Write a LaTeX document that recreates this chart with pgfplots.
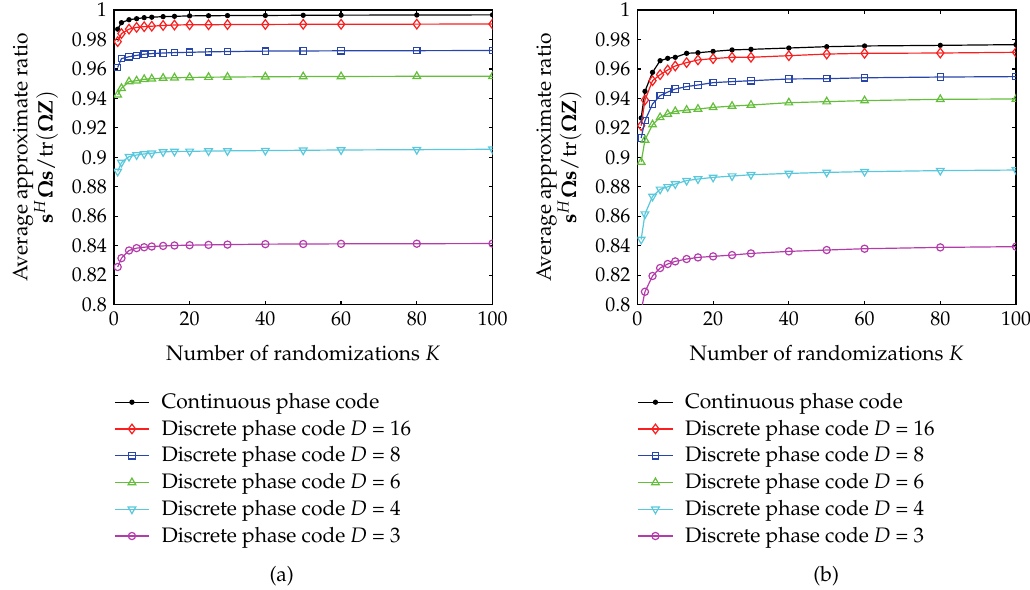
\documentclass[border=0pt]{standalone}
\usepackage[T1]{fontenc}
\usepackage{mathpazo}
\usepackage{pgfplots}
\usepackage{pgfplotstable}
\pgfplotsset{compat=1.18}
\definecolor{cblack}{RGB}{0,0,0}
\definecolor{cred}{RGB}{250,30,30}
\definecolor{cblue}{RGB}{40,70,170}
\definecolor{cgreen}{RGB}{100,190,60}
\definecolor{ccyan}{RGB}{90,200,220}
\definecolor{cmag}{RGB}{180,60,170}

\pgfplotstableread{
x   c       d16     d8      d6      d4      d3
1   0.9870  0.9785  0.9610  0.9424  0.8904  0.8256
2   0.9914  0.9840  0.9670  0.9469  0.8965  0.8316
4   0.9934  0.9870  0.9683  0.9514  0.9005  0.8368
6   0.9941  0.9882  0.9692  0.9520  0.9016  0.8384
8   0.9948  0.9887  0.9700  0.9530  0.9023  0.8390
10  0.9951  0.9890  0.9704  0.9533  0.9028  0.8395
13  0.9955  0.9895  0.9708  0.9538  0.9037  0.8399
16  0.9957  0.9898  0.9711  0.9540  0.9040  0.8402
20  0.9960  0.9900  0.9713  0.9542  0.9041  0.8404
25  0.9961  0.9900  0.9716  0.9544  0.9043  0.8406
30  0.9962  0.9901  0.9718  0.9545  0.9044  0.8408
40  0.9963  0.9902  0.9721  0.9547  0.9046  0.8411
50  0.9964  0.9903  0.9722  0.9548  0.9048  0.8412
60  0.9965  0.9903  0.9723  0.9549  0.9050  0.8413
80  0.9966  0.9904  0.9724  0.9550  0.9052  0.8414
100 0.9967  0.9905  0.9725  0.9550  0.9055  0.8415
}\dataA

\pgfplotstableread{
x   c       d16     d8      d6      d4      d3
1   0.9267  0.9215  0.9131  0.8968  0.8443  0.7960
2   0.9448  0.9389  0.9249  0.9118  0.8615  0.8088
4   0.9577  0.9520  0.9362  0.9222  0.8735  0.8195
6   0.9656  0.9561  0.9419  0.9271  0.8783  0.8249
8   0.9672  0.9593  0.9443  0.9294  0.8800  0.8276
10  0.9679  0.9620  0.9464  0.9312  0.8819  0.8294
13  0.9706  0.9643  0.9480  0.9321  0.8842  0.8310
16  0.9710  0.9661  0.9491  0.9328  0.8853  0.8321
20  0.9719  0.9670  0.9507  0.9339  0.8864  0.8328
25  0.9729  0.9679  0.9514  0.9348  0.8873  0.8337
30  0.9733  0.9679  0.9520  0.9355  0.8882  0.8348
40  0.9742  0.9690  0.9532  0.9371  0.8891  0.8362
50  0.9751  0.9701  0.9534  0.9378  0.8898  0.8371
60  0.9756  0.9706  0.9540  0.9385  0.8903  0.8380
80  0.9760  0.9708  0.9545  0.9394  0.8910  0.8389
100 0.9765  0.9713  0.9548  0.9396  0.8914  0.8394
}\dataB

\newcommand{\fs}{\fontsize{10.5pt}{12.6pt}\selectfont}
\newcommand{\ft}{\fontsize{10pt}{12pt}\selectfont}

\pgfplotsset{
  myaxis/.style={
    scale only axis,
    width=189.5pt, height=147.5pt,
    xmin=0, xmax=100, ymin=0.8, ymax=1,
    xtick={0,20,40,60,80,100},
    ytick={0.8,0.82,0.84,0.86,0.88,0.9,0.92,0.94,0.96,0.98,1},
    tick align=inside,
    major tick length=2pt,
    font=\fs,
    tick label style={font=\ft},
    label style={font=\fs},
    axis line style={line width=0.7pt},
    every tick/.style={line width=0.6pt, black},
    clip marker paths=true,
    xlabel={Number of randomizations $K$},
    ylabel={Average approximate ratio\\ $\mathbf{s}^H\mathbf{\Omega}\mathbf{s}/\mathrm{tr}(\mathbf{\Omega}\mathbf{Z})$},
    ylabel style={align=center},
    xlabel style={yshift=-3pt},
    legend cell align=left,
    legend style={draw=none, fill=none, at={(0,-0.285)}, anchor=north west,
      inner sep=0pt, row sep=0.3pt, column sep=4pt, font=\fs},
    every axis plot/.append style={line width=0.6pt},
  },
  sc/.style={cblack, mark=*, mark size=1pt},
  s16/.style={cred, mark=diamond, mark size=2.4pt},
  s8/.style={cblue, mark=square, mark size=1.6pt},
  s6/.style={cgreen, mark=triangle, mark size=2.2pt},
  s4/.style={ccyan, mark=triangle, mark options={rotate=180}, mark size=2.2pt},
  s3/.style={cmag, mark=o, mark size=1.8pt},
}

\begin{document}
\begin{tikzpicture}
\begin{axis}[myaxis, at={(0pt,0pt)}, anchor=south west]
\addplot[sc] table[x=x,y=c] {\dataA};
\addplot[s16] table[x=x,y=d16] {\dataA};
\addplot[s8] table[x=x,y=d8] {\dataA};
\addplot[s6] table[x=x,y=d6] {\dataA};
\addplot[s4] table[x=x,y=d4] {\dataA};
\addplot[s3] table[x=x,y=d3] {\dataA};
\legend{Continuous phase code, Discrete phase code \textit{D} = 16, Discrete phase code \textit{D} = 8, Discrete phase code \textit{D} = 6, Discrete phase code \textit{D} = 4, Discrete phase code \textit{D} = 3}
\end{axis}
\begin{axis}[myaxis, at={(262pt,0pt)}, anchor=south west]
\addplot[sc] table[x=x,y=c] {\dataB};
\addplot[s16] table[x=x,y=d16] {\dataB};
\addplot[s8] table[x=x,y=d8] {\dataB};
\addplot[s6] table[x=x,y=d6] {\dataB};
\addplot[s4] table[x=x,y=d4] {\dataB};
\addplot[s3] table[x=x,y=d3] {\dataB};
\legend{Continuous phase code, Discrete phase code \textit{D} = 16, Discrete phase code \textit{D} = 8, Discrete phase code \textit{D} = 6, Discrete phase code \textit{D} = 4, Discrete phase code \textit{D} = 3}
\end{axis}
\node[font=\fs] at (84pt,-136pt) {(a)};
\node[font=\fs] at (356.5pt,-136pt) {(b)};
\pgfresetboundingbox
\path (-57pt,152.5pt) rectangle (458.5pt,-142.5pt);
\end{tikzpicture}
\end{document}
